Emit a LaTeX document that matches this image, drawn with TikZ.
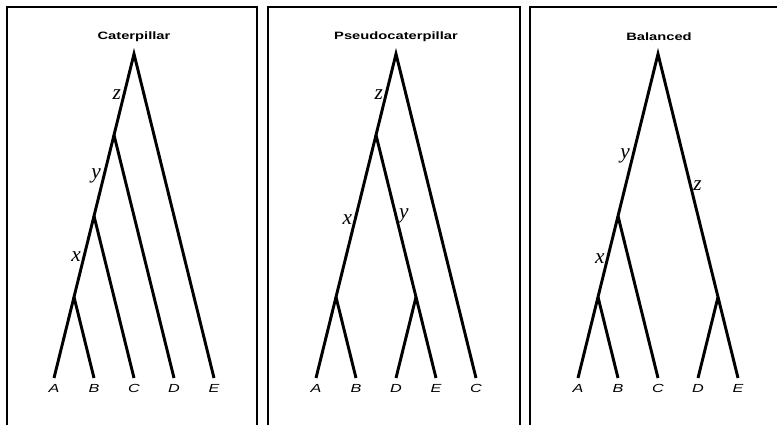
\documentclass[tikz,border=0pt]{standalone}
\usepackage{fontspec}
\newfontfamily\largo[FakeStretch=1.38]{Liberation Sans}
\newfontfamily\serifo{Liberation Serif}
\usetikzlibrary{positioning}

\begin{document}
\begin{tikzpicture}[
  x=0.75pt, y=-0.75pt,
  ramo/.style={draw=black, line width=2.2pt},
  foglia/.style={font=\largo\itshape\fontsize{8.8}{10}\selectfont, inner sep=0pt,
                 outer sep=4.6pt, anchor=north},
  titolo/.style={font=\largo\bfseries\fontsize{8}{9}\selectfont},
  etichetta/.style={font=\serifo\itshape\fontsize{16}{18}\selectfont, inner sep=1.2pt},
  cornice/.style={draw=black, line width=1.2pt}
]
\useasboundingbox (0,0) rectangle (777,425);

% cornici
\draw[cornice] (7,425) |- (257,7) -- (257,425);
\draw[cornice] (268,425) |- (520,7) -- (520,425);
\draw[cornice] (530,425) |- (777,7);

% titoli
\node[titolo] (t1) at (134,37) {Caterpillar};
\node[titolo] (t2) at (396,37) {Pseudocaterpillar};
\node[titolo] (t3) at (659,37) {Balanced};

% caterpillar
\foreach \l/\i in {A/0, B/1, C/2, D/3, E/4}
  \node[foglia] (p1\l) at ({54+40*\i},378) {\l};
\coordinate (p1ab)   at (74,297);
\coordinate (p1abc)  at (94,216);
\coordinate (p1abcd) at (114,135);
\coordinate (p1r)    at (134,54);
\draw[ramo] (p1A.north) -- (p1ab) -- node[etichetta, left] {x} (p1abc)
  -- node[etichetta, left] {y} (p1abcd) -- node[etichetta, left] {z} (p1r) -- (p1E.north);
\draw[ramo] (p1ab) -- (p1B.north);
\draw[ramo] (p1abc) -- (p1C.north);
\draw[ramo] (p1abcd) -- (p1D.north);

% pseudocaterpillar
\foreach \l/\i in {A/0, B/1, D/2, E/3, C/4}
  \node[foglia] (p2\l) at ({316+40*\i},378) {\l};
\coordinate (p2ab)   at (336,297);
\coordinate (p2de)   at (416,297);
\coordinate (p2abde) at (376,135);
\coordinate (p2r)    at (396,54);
\draw[ramo] (p2A.north) -- (p2ab) -- node[etichetta, left, pos=0.48] {x} (p2abde)
  -- node[etichetta, left] {z} (p2r) -- (p2C.north);
\draw[ramo] (p2ab) -- (p2B.north);
\draw[ramo] (p2E.north) -- (p2de) -- node[etichetta, right] {y} (p2abde);
\draw[ramo] (p2de) -- (p2D.north);

% balanced
\foreach \l/\i in {A/0, B/1, C/2, D/3, E/4}
  \node[foglia] (p3\l) at ({578+40*\i},378) {\l};
\coordinate (p3ab)  at (598,297);
\coordinate (p3abc) at (618,216);
\coordinate (p3de)  at (718,297);
\coordinate (p3r)   at (658,54);
\draw[ramo] (p3A.north) -- (p3ab) -- node[etichetta, left, pos=0.48] {x} (p3abc)
  -- node[etichetta, left, pos=0.37] {y} (p3r)
  -- node[etichetta, right, pos=0.54] {z} (p3de) -- (p3E.north);
\draw[ramo] (p3ab) -- (p3B.north);
\draw[ramo] (p3abc) -- (p3C.north);
\draw[ramo] (p3de) -- (p3D.north);

\end{tikzpicture}
\end{document}
